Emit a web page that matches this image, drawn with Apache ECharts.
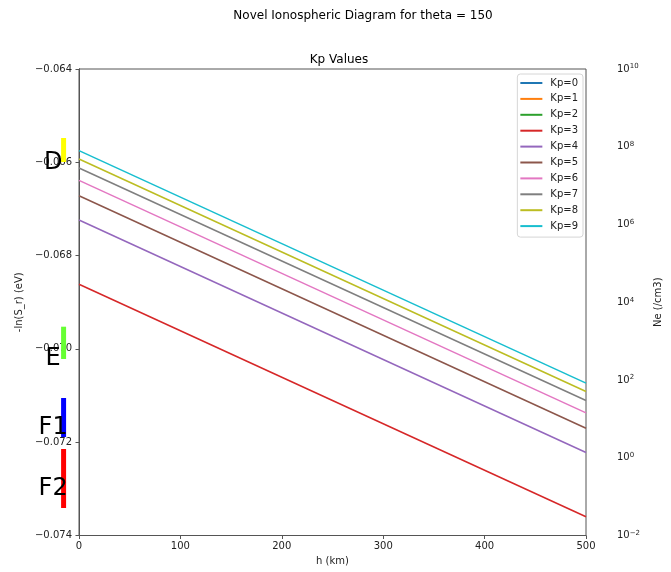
<!DOCTYPE html>
<html>
<head>
<meta charset="utf-8">
<script src="https://cdn.jsdelivr.net/npm/echarts@6/dist/echarts.min.js"></script>
<style>
  html, body { margin: 0; padding: 0; background: #fff; }
  #chart { width: 671px; height: 572px; }
</style>
</head>
<body>
<div id="chart"></div>
<script>
// Altitude range of the profile (km)
const heights = [0, 500];

// -ln(S_r) in eV at each end of the altitude range, one list per Kp level
const kpNames = ['Kp=0', 'Kp=1', 'Kp=2', 'Kp=3', 'Kp=4', 'Kp=5', 'Kp=6', 'Kp=7', 'Kp=8', 'Kp=9'];
const kp0 = [];
const kp1 = [];
const kp2 = [];
const kp3 = [-0.068613, -0.073597];
const kp4 = [-0.067237, -0.072221];
const kp5 = [-0.066716, -0.071700];
const kp6 = [-0.066386, -0.071370];
const kp7 = [-0.066122, -0.071106];
const kp8 = [-0.065929, -0.070913];
const kp9 = [-0.065751, -0.070735];
const kpValues = [kp0, kp1, kp2, kp3, kp4, kp5, kp6, kp7, kp8, kp9];
const kpColors = ['#1f77b4', '#ff7f0e', '#2ca02c', '#d62728', '#9467bd',
                  '#8c564b', '#e377c2', '#7f7f7f', '#bcbd22', '#17becf'];

// Ionospheric layer markers, placed beside the left axis
const layerNames = ['D', 'E', 'F1', 'F2'];
const layerTop = [-0.065479, -0.069524, -0.071053, -0.072146];
const layerBottom = [-0.065994, -0.070216, -0.071889, -0.073411];
const layerLabelY = [-0.066015, -0.070217, -0.071696, -0.073004];
const layerColors = ['#ffff00', '#66ff33', '#0000ff', '#ff0000'];
const layerBarH = -15.2;   // h position of the marker bars
const layerLabelH = -25.5; // h position of the layer names

// Axis ticks
const hTicks = { min: 0, max: 500, step: 100 };
const srTicks = { min: -0.074, max: -0.064, step: 0.002 };
const neTicks = { min: 1e-2, max: 1e10, stepExp: 2 };

const font = 'DejaVu Sans, sans-serif';
const ink = '#222';
const spine = '#555';

const lineSeries = kpNames.map((name, i) => ({
  name: name,
  type: 'line',
  yAxisIndex: 0,
  symbol: 'none',
  silent: true,
  lineStyle: { width: 1.5, color: kpColors[i] },
  itemStyle: { color: kpColors[i] },
  data: kpValues[i].map((v, j) => [heights[j], v]),
  z: 3
}));

const layerData = layerNames.map((n, i) => [layerBarH, layerTop[i], layerBottom[i], layerLabelH, layerLabelY[i], i]);

const layerSeries = {
  type: 'custom',
  name: 'layers',
  yAxisIndex: 0,
  clip: false,
  silent: true,
  z: 10,
  data: layerData,
  encode: { x: 0, y: [1, 2] },
  renderItem: function (params, api) {
    const idx = api.value(5);
    const top = api.coord([api.value(0), api.value(1)]);
    const bot = api.coord([api.value(0), api.value(2)]);
    const lab = api.coord([api.value(3), api.value(4)]);
    return {
      type: 'group',
      children: [
        {
          type: 'rect',
          shape: { x: top[0] - 2.5, y: top[1], width: 5, height: bot[1] - top[1] },
          style: { fill: layerColors[idx] }
        },
        {
          type: 'text',
          x: lab[0], y: lab[1],
          style: {
            text: layerNames[idx],
            fill: '#000',
            font: '24px ' + font,
            align: 'center',
            verticalAlign: 'middle'
          }
        }
      ]
    };
  }
};

const supDigits = (n) => String(n).replace('-', '\u2212');

const option = {
  animation: false,
  backgroundColor: '#fff',
  textStyle: { fontFamily: font },
  title: [
    {
      text: 'Novel Ionospheric Diagram for theta = 150',
      left: 358, top: 5, textAlign: 'center',
      textStyle: { fontFamily: font, fontSize: 12, fontWeight: 'normal', color: '#000' }
    },
    {
      text: 'Kp Values',
      left: 334, top: 49, textAlign: 'center',
      textStyle: { fontFamily: font, fontSize: 12, fontWeight: 'normal', color: '#000' }
    }
  ],
  legend: {
    data: kpNames,
    orient: 'vertical',
    right: 88, top: 74,
    icon: 'rect',
    itemWidth: 22, itemHeight: 2,
    itemGap: 3.9,
    padding: [3, 5, 5, 3],
    backgroundColor: '#fff',
    borderColor: '#d6d6d6', borderWidth: 1, borderRadius: 3,
    textStyle: { fontFamily: font, fontSize: 10, color: ink, lineHeight: 12, padding: [0, 0, 0, 3] },
    selectedMode: false
  },
  grid: {
    left: 79, right: 82, top: 69, bottom: 36.5,
    show: true, borderColor: spine, borderWidth: 1, backgroundColor: 'transparent'
  },
  xAxis: {
    type: 'value',
    min: hTicks.min, max: hTicks.max, interval: hTicks.step,
    name: 'h (km)', nameLocation: 'middle', nameGap: 20,
    nameTextStyle: { fontFamily: font, fontSize: 10, color: ink },
    axisLine: { show: true, onZero: false, lineStyle: { color: spine, width: 1 } },
    axisTick: { show: true, length: 3.5, lineStyle: { color: spine } },
    axisLabel: { fontFamily: font, fontSize: 10, color: ink, margin: 6 },
    splitLine: { show: false }
  },
  yAxis: [
    {
      type: 'value',
      min: srTicks.min, max: srTicks.max, interval: srTicks.step,
      name: '-ln(S_r) (eV)', nameLocation: 'middle', nameGap: 52,
      nameTextStyle: { fontFamily: font, fontSize: 10, color: ink },
      axisLine: { show: true, onZero: false, lineStyle: { color: spine, width: 1 } },
      axisTick: { show: true, length: 3.5, lineStyle: { color: spine } },
      axisLabel: {
        fontFamily: font, fontSize: 10, color: ink, margin: 7,
        formatter: (v) => (v < 0 ? '\u2212' : '') + Math.abs(v).toFixed(3)
      },
      splitLine: { show: false }
    },
    {
      type: 'log', logBase: 10,
      min: neTicks.min, max: neTicks.max, interval: neTicks.stepExp,
      position: 'right', offset: 26,
      name: 'Ne (/cm3)', nameLocation: 'middle', nameGap: 41,
      nameTextStyle: { fontFamily: font, fontSize: 10, color: ink },
      axisLine: { show: true, lineStyle: { color: spine, width: 1 } },
      axisTick: { show: false },
      axisLabel: {
        fontFamily: font, fontSize: 10, color: ink, margin: 5,
        formatter: (v) => '10{s|' + supDigits(Math.round(Math.log10(v))) + '}',
        rich: {
          s: { fontFamily: font, fontSize: 7, color: ink, verticalAlign: 'top', padding: [0, 0, 5, 0] }
        }
      },
      splitLine: { show: false }
    }
  ],
  series: lineSeries.concat([layerSeries])
};

const chart = echarts.init(document.getElementById('chart'), null, { renderer: 'canvas' });
chart.setOption(option);
</script>
</body>
</html>
